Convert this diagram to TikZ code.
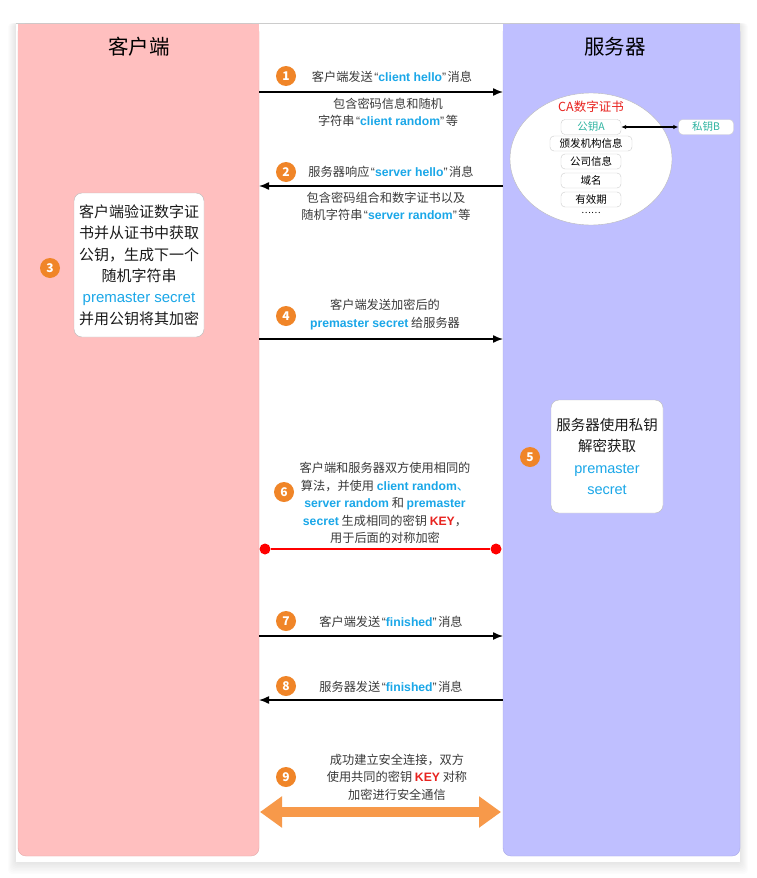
\documentclass[tikz,border=0pt]{standalone}
\usepackage{fontspec}
\setmainfont{Noto Sans CJK SC}
\newfontfamily\latinfont{Liberation Sans}
\usepackage{tikz}
\usetikzlibrary{arrows.meta,shapes.geometric}
\definecolor{clientpink}{HTML}{FFBFBF}
\definecolor{clientedge}{HTML}{E4AAAA}
\definecolor{serverblue}{HTML}{BFBFFF}
\definecolor{serveredge}{HTML}{A8A8E6}
\definecolor{keycyan}{HTML}{1AA7E8}
\definecolor{keyred}{HTML}{E8231F}
\definecolor{keyteal}{HTML}{2DB3A0}
\definecolor{steporange}{HTML}{F08528}
\definecolor{bandorange}{HTML}{F7994A}
\definecolor{inkgray}{HTML}{3A3A3A}
\newcommand{\hl}[1]{\textcolor{keycyan}{\latinfont\bfseries #1}}
\newcommand{\hlm}[1]{\textcolor{keycyan}{\latinfont #1}}
\newcommand{\kw}[1]{\textcolor{keyred}{\latinfont\bfseries #1}}
\newcommand{\oq}{\kern1.5pt{\latinfont “}}
\newcommand{\cq}{{\latinfont ”}\kern1.5pt}
\tikzset{stepdot/.style={circle,fill=steporange,text=white,minimum size=20pt,inner sep=0pt,font=\fontsize{12}{12}\selectfont\bfseries},msgtext/.style={align=center,text=inkgray,inner sep=0pt,font=\fontsize{12.2}{17.5}\selectfont},msg/.style={-{Latex[length=10pt,width=8pt]},line width=1.4pt},notebox/.style={draw=gray!55,fill=white,rounded corners=8pt,align=center,inner sep=0pt,text=black!90},field/.style={draw=gray!40,fill=white,rounded corners=4pt,minimum width=60pt,minimum height=15pt,inner sep=0pt,font=\fontsize{10.5}{11}\selectfont},title/.style={font=\fontsize{20.5}{20.5}\selectfont,text=black}}

\begin{document}
\begin{tikzpicture}[x=1pt,y=-1pt]
\useasboundingbox (0,0) rectangle (756,878);
\fill[white] (0,0) rectangle (756,878);
% card with soft shadow
\foreach \d in {1,...,8}{\fill[black,opacity=0.012,rounded corners=4pt] (16-\d,23) rectangle (740+\d,862+1.5*\d);}
\fill[white] (16,23) rectangle (740,862);
\draw[gray!40,line width=1pt] (16,23) -- (740,23);
% the two columns
\fill[clientpink,draw=clientedge,rounded corners=8pt] (18,24) rectangle (259,856);
\fill[clientpink] (18,24) rectangle (259,80);
\fill[serverblue,draw=serveredge,rounded corners=8pt] (503,24) rectangle (740,856);
\fill[serverblue] (503,24) rectangle (740,80);
\node[title] (client) at (139,47) {客户端};
\node[title] (server) at (615,47) {服务器};
% ends of the messages on the column edges
\foreach \y [count=\k] in {92,186,339,636,700}{
\coordinate (cl\k) at (259,\y);
\coordinate (sv\k) at (503,\y);
}
\draw[msg] (cl1) -- (sv1);
\draw[msg] (sv2) -- (cl2);
\draw[msg] (cl3) -- (sv3);
\draw[msg] (cl4) -- (sv4);
\draw[msg] (sv5) -- (cl5);
% step numbers
\foreach \k/\x/\y in {1/286/76,2/286/172,3/50/268,4/286/316,5/530/457,6/284/492,7/286/621,8/286/686,9/286/777}{
\node[stepdot] (n\k) at (\x,\y) {\k};
}
% message texts
\node[msgtext] (t1) at (392,77) {客户端发送\oq\hl{client hello}\cq 消息};
\node[msgtext] (t1b) at (388,112.5) {包含密码信息和随机\\字符串\oq\hl{client random}\cq 等};
\node[msgtext] (t2) at (391,172) {服务器响应\oq\hl{server hello}\cq 消息};
\node[msgtext] (t2b) at (386,206.5) {包含密码组合和数字证书以及\\随机字符串\oq\hl{server random}\cq 等};
\node[msgtext] (t4) at (385,314.5) {客户端发送加密后的\\\hl{premaster secret} 给服务器};
\node[msgtext] (t6) at (385,503) {客户端和服务器双方使用相同的\\算法，并使用 \hl{client random}\textcolor{keycyan}{、}\\\hl{server random} 和 \hl{premaster}\\\hl{secret} 生成相同的密钥 \kw{KEY}，\\用于后面的对称加密};
\node[msgtext] (t7) at (391,622) {客户端发送\oq\hl{finished}\cq 消息};
\node[msgtext] (t8) at (391,687) {服务器发送\oq\hl{finished}\cq 消息};
\node[msgtext] (t9) at (397,777) {成功建立安全连接，双方\\使用共同的密钥 \kw{KEY} 对称\\加密进行安全通信};
% client note
\node[notebox,minimum width=130pt,minimum height=144pt,font=\fontsize{15}{21.4}\selectfont] (b3) at (139,265) {客户端验证数字证\\书并从证书中获取\\公钥，生成下一个\\随机字符串\\\hlm{premaster secret}\\并用公钥将其加密};
% server note
\node[notebox,minimum width=112pt,minimum height=113pt,font=\fontsize{14.5}{21.6}\selectfont] (b5) at (607,456.5) {服务器使用私钥\\解密获取\\\hlm{premaster}\\\hlm{secret}};
% certificate
\node[ellipse,draw=gray!55,fill=white,minimum width=162pt,minimum height=132pt] (ca) at (591,159) {};
\node[text=keyred,font=\fontsize{12.5}{12.5}\selectfont] (catitle) at (591,107) {CA数字证书};
\node[field,text=keyteal] (pubkey) at (591,127) {公钥A};
\node[field,minimum width=82pt] (issuer) at (591,143.5) {颁发机构信息};
\node[field] (company) at (591,161.5) {公司信息};
\node[field] (domain) at (591,180.5) {域名};
\node[field] (expiry) at (591,199.5) {有效期};
\node[font=\fontsize{9}{9}\selectfont] (more) at (591,213) {……};
\node[field,text=keyteal,minimum width=55pt] (privkey) at (706,127) {私钥B};
\draw[{Latex[length=5pt,width=4.5pt]}-{Latex[length=5pt,width=4.5pt]},line width=1.2pt] (pubkey) -- (privkey);
% shared key line
\node[circle,fill=red,minimum size=11pt,inner sep=0pt] (rd1) at (265,549) {};
\node[circle,fill=red,minimum size=11pt,inner sep=0pt] (rd2) at (496,549) {};
\draw[red,line width=2pt] (rd1) -- (rd2);
% secure channel
\coordinate (ch1) at (260,812);
\coordinate (ch2) at (501,812);
\draw[bandorange,line width=10pt,{Triangle[length=22pt,width=30pt]}-{Triangle[length=22pt,width=30pt]}] (ch1) -- (ch2);
\end{tikzpicture}
\end{document}
